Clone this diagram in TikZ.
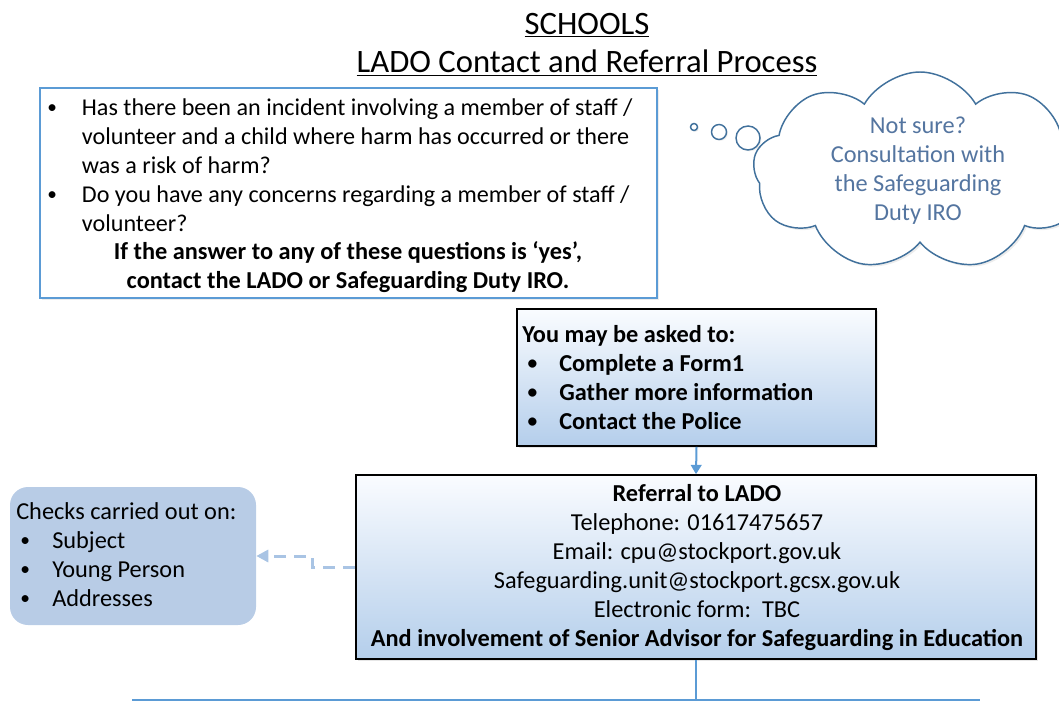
\documentclass[tikz,border=0pt]{standalone}
\usepackage{fontspec}
\usepackage{graphicx}
\setmainfont{Carlito}
\usetikzlibrary{shapes.symbols,arrows.meta,shadows}
\definecolor{bord}{RGB}{91,155,213}
\definecolor{gradb}{RGB}{180,206,235}
\definecolor{gradt}{RGB}{250,252,255}
\definecolor{cloudc}{RGB}{65,113,156}
\definecolor{cloudt}{RGB}{84,117,160}
\definecolor{checkf}{RGB}{184,204,230}
\definecolor{dashc}{RGB}{169,196,228}
\newcommand{\bul}{\raisebox{0.08em}{\scalebox{0.8}{\textbullet}}}
\begin{document}
\begin{tikzpicture}[x=0.75pt,y=-0.75pt,
  font=\fontsize{18.25}{21.75}\selectfont,
  gbox/.style={draw=black, rectangle, inner sep=0pt, line width=1.2pt,
    top color=gradt, bottom color=gradb,
    drop shadow={opacity=0.2,shadow xshift=1.5pt,shadow yshift=-1.5pt}},
  txt/.style={inner sep=0pt, align=left},
  bubble/.style={circle, draw=cloudc, line width=1.1pt, fill=white, inner sep=0pt,
    drop shadow={opacity=0.15,shadow xshift=1pt,shadow yshift=-1pt}},
  titletxt/.style={inner sep=0pt, font=\fontsize{24.5}{28}\selectfont}]
\useasboundingbox (0,0) rectangle (1059,702);
\clip (0,0) rectangle (1059,702);

% title
\node[titletxt] (t1) at (587,25) {\underline{SCHOOLS}};
\node[titletxt] (t2) at (587,63) {\underline{LADO Contact and Referral Process}};

% question box
\node[draw=bord, line width=1.5pt, rectangle, inner sep=0pt, fill=white,
  minimum width=617*0.75pt, minimum height=210*0.75pt,
  drop shadow={opacity=0.15,shadow xshift=1.5pt,shadow yshift=-1.5pt}] (qbox) at (348.5,193) {};
\node[txt, anchor=north west, font=\fontsize{18.1}{21.75}\selectfont] (qtext) at (47,95) {\begin{tabular}{@{}p{26pt}@{}l@{}}
\bul & Has there been an incident involving a member of staff /\\
 & volunteer and a child where harm has occurred or there\\
 & was a risk of harm?\\
\bul & Do you have any concerns regarding a member of staff /\\
 & volunteer?
\end{tabular}};
\node[inner sep=0pt, align=center, font=\fontsize{18.25}{21.75}\selectfont\bfseries] (qbold) at (348,267)
  {If the answer to any of these questions is ‘yes’,\\contact the LADO or Safeguarding Duty IRO.};

% cloud
\node[cloud, cloud puffs=9, cloud puff arc=120, cloud ignores aspect, draw=cloudc,
  line width=1.1pt, fill=white, minimum width=334*0.75pt, minimum height=198*0.75pt,
  drop shadow={opacity=0.15,shadow xshift=1.5pt,shadow yshift=-1.5pt}] (cloud) at (920,171) {};
\node[inner sep=0pt, align=center, text=cloudt] (cloudtext) at (918,171)
  {Not sure?\\Consultation with\\the Safeguarding\\Duty IRO};
\node[bubble, minimum size=7*0.75pt] (b1) at (694,127) {};
\node[bubble, minimum size=15*0.75pt] (b2) at (719,132) {};
\node[bubble, minimum size=24*0.75pt] (b3) at (748,138) {};

% asked box
\node[gbox, minimum width=359*0.75pt, minimum height=137*0.75pt] (ask) at (696.5,377.5) {};
\node[txt, anchor=north west, font=\fontsize{18.25}{21.75}\selectfont\bfseries] (asktext) at (522,322)
{\begin{tabular}{@{}p{27.75pt}@{}l@{}}
\multicolumn{2}{@{}l@{}}{You may be asked to:}\\
\hspace{4pt}\bul & Complete a Form1\\
\hspace{4pt}\bul & Gather more information\\
\hspace{4pt}\bul & Contact the Police
\end{tabular}};

% LADO box
\node[gbox, minimum width=680*0.75pt, minimum height=184*0.75pt] (lado) at (696,567) {};
\node[inner sep=0pt, align=center] (ladotext) at (697,567.5)
{\textbf{Referral to LADO}\\
Telephone: 01617475657\\
Email: cpu@stockport.gov.uk\\
Safeguarding.unit@stockport.gcsx.gov.uk\\
Electronic form:\ \ TBC\\
\textbf{And involvement of Senior Advisor for Safeguarding in Education}};

% checks box
\node[rectangle, rounded corners=18*0.75pt, fill=checkf, inner sep=0pt,
  minimum width=246*0.75pt, minimum height=138*0.75pt] (checks) at (133,556) {};
\node[txt, anchor=north west] (checktext) at (16,499)
{\begin{tabular}{@{}p{27pt}@{}l@{}}
\multicolumn{2}{@{}l@{}}{Checks carried out on:}\\
\hspace{3pt}\bul & Subject\\
\hspace{3pt}\bul & Young Person\\
\hspace{3pt}\bul & Addresses
\end{tabular}};

% connectors
\draw[bord, line width=1.5pt, -{Triangle[length=7pt,width=8pt]}] (ask.south) -- (lado.north);
\draw[dashc, line width=2.25pt, dash pattern=on 9pt off 6pt,
  -{Triangle[length=9pt,width=9pt]}] (lado.west) -- ++(-43,0) |- (checks.east);
\coordinate (bl) at (132,700);
\coordinate (br) at (980,700);
\draw[bord, line width=1pt] (lado.south) -- (lado.south |- bl);
\draw[bord, line width=1.5pt] (bl) -- (br);
\end{tikzpicture}
\end{document}
